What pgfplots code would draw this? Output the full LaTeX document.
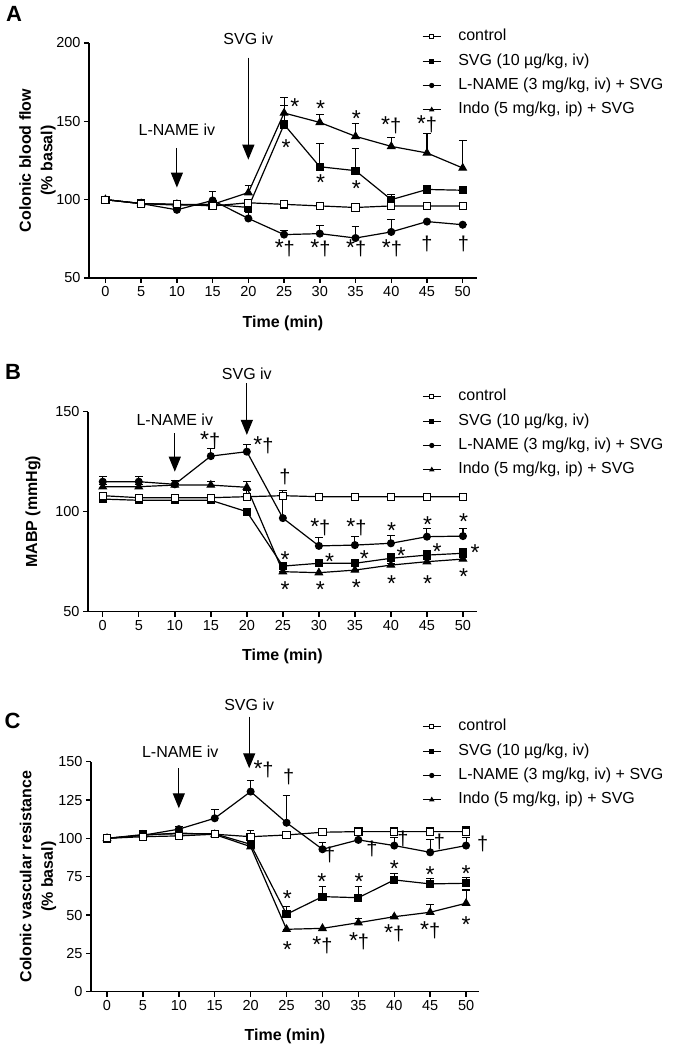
\documentclass[border=0pt]{standalone}
\usepackage{pgfplots}
\pgfplotsset{compat=1.18}
\usepackage{fontspec}
\setmainfont{Liberation Sans}
\usetikzlibrary{arrows.meta}

\newcommand{\tickfont}{\fontsize{14.5}{16}\selectfont}
\newcommand{\labfont}{\fontsize{16}{21.5}\selectfont\bfseries}
\newcommand{\annfont}{\fontsize{16}{19}\selectfont}
\newcommand{\sa}{{\fontsize{23}{24}\selectfont *}}
\newcommand{\dg}{{\fontsize{20}{22}\selectfont †}}

\tikzset{
  st/.style={inner sep=0pt, yshift=-5pt},
  sd/.style={inner sep=0pt},
  arr/.style={line width=1.2pt, -{Triangle[width=12pt,length=15pt]}},
}

\pgfplotsset{
  panel/.style={
    scale only axis,
    axis lines*=left,
    axis line style={line width=1.4pt,-},
    tick align=outside,
    major tick length=5pt,
    every tick/.style={black,line width=1.4pt},
    xtick={0,5,...,50},
    tick label style={font=\tickfont},
    /pgf/number format/assume math mode=true,
    xlabel={Time (min)},
    clip=false,
    legend cell align=left,
    legend style={draw=none, fill=none, font=\annfont, inner sep=0pt, row sep=8.3pt, column sep=17pt,
       nodes={inner sep=0pt, text height=12pt, text depth=4pt}, anchor=north west},
    legend image code/.code={
      \draw[mark repeat=2,mark phase=2,##1, mark size=2pt] plot coordinates {(0pt,0pt) (9pt,0pt) (18pt,0pt)};},
  },
  ctrl/.style={black, line width=1.2pt, mark=square*, mark size=3.6pt, mark options={fill=white, line width=1.1pt, solid}},
  svgs/.style={black, line width=1.2pt, mark=square*, mark size=3.5pt, mark options={fill=black}},
  lnm/.style={black, line width=1.2pt, mark=*, mark size=3.4pt, mark options={fill=black}},
  ind/.style={black, line width=1.2pt, mark=triangle*, mark size=4.1pt, mark options={fill=black}},
  eb/.style={error bars/.cd, y dir=plus, y explicit, error mark=|, error bar style={line width=1.1pt, black}, error mark options={black, line width=1.1pt, mark size=3.8pt}},
}

\begin{document}
\begin{tikzpicture}
\useasboundingbox (0,0) rectangle (676pt,1048pt);

\node[font=\fontsize{22}{24}\selectfont\bfseries] at (14pt,1034pt) {A};
\node[font=\fontsize{22}{24}\selectfont\bfseries] at (13pt,676pt) {B};
\node[font=\fontsize{22}{24}\selectfont\bfseries] at (12.5pt,327pt) {C};

% ---------------- Panel A ----------------
\begin{axis}[panel, at={(89pt,770pt)}, anchor=south west,
  width=388pt, height=235pt,
  xmin=-2.3, xmax=52, ymin=50, ymax=200, ytick={50,100,150,200},
  ylabel={Colonic blood flow\\(\% basal)},
  ylabel style={at={(axis description cs:-0.1327,0.5)}, anchor=center, align=center, font=\labfont},
  xlabel style={at={(axis description cs:0.5,-0.1915)}, anchor=center, font=\labfont},
  legend style={at={(axis description cs:0.858,1.0609)}},
]
\addlegendimage{ctrl}\addlegendentry{control}
\addlegendimage{svgs}\addlegendentry{SVG (10 µg/kg, iv)}
\addlegendimage{lnm}\addlegendentry{L-NAME (3 mg/kg, iv) + SVG}
\addlegendimage{ind}\addlegendentry{Indo (5 mg/kg, ip) + SVG}

\addplot[svgs, forget plot, eb] table[x=t,y=v,y error=e] {
t v e
0 100 0
5 97.5 0
10 96.5 1
15 97 0
20 95 0
25 148 12
30 121 15
35 118.5 14
40 100 3.5
45 106.5 0.5
50 106 0
};
\addplot[lnm, forget plot, eb] table[x=t,y=v,y error=e] {
t v e
0 100 0
5 97.5 0
10 93.5 1
15 99.5 5.5
20 88 4
25 77.7 2.7
30 78.3 5.3
35 75.5 7.5
40 79.4 7.8
45 86 0
50 84 0
};
\addplot[ind, forget plot, eb] table[x=t,y=v,y error=e] {
t v e
0 100 0
5 97.5 0
10 97 0
15 97 0
20 104.5 4.5
25 155.3 10
30 149.3 5
35 140.4 8
40 134 5.4
45 129.8 12.7
50 120.2 17.7
};
\addplot[ctrl, forget plot] table[x=t,y=v] {
t v
0 100
5 97.5
10 97
15 96
20 98
25 97
30 96
35 95
40 96
45 96
50 96
};

\node[font=\annfont] at (axis cs:10,144.7) {L-NAME iv};
\draw[arr] (axis cs:10,133) -- (axis cs:10,107.7);
\node[font=\annfont] at (axis cs:20,202.7) {SVG iv};
\draw[arr] (axis cs:20,190.6) -- (axis cs:20,125.5);

\node[st] at (axis cs:26.5,162.7) {\sa};
\node[st] at (axis cs:25.3,136.2) {\sa};
\node[st] at (axis cs:30.1,161.3) {\sa};
\node[st] at (axis cs:30.1,113.8) {\sa};
\node[st] at (axis cs:35.1,154.9) {\sa};
\node[st] at (axis cs:35.1,110) {\sa};
\node[sd] at (axis cs:40,147.2) {\sa\dg};
\node[sd] at (axis cs:45,148.3) {\sa\dg};
\node[sd] at (axis cs:25.1,69.2) {\sa\dg};
\node[sd] at (axis cs:30.1,69.2) {\sa\dg};
\node[sd] at (axis cs:35.1,69.2) {\sa\dg};
\node[sd] at (axis cs:40.1,69.2) {\sa\dg};
\node[sd] at (axis cs:45,71.9) {\dg};
\node[sd] at (axis cs:50.1,71.9) {\dg};
\end{axis}

% ---------------- Panel B ----------------
\begin{axis}[panel, at={(88pt,436.3pt)}, anchor=south west,
  width=389pt, height=200pt,
  xmin=-2.05, xmax=51.95, ymin=50, ymax=150, ytick={50,100,150},
  ylabel={MABP (mmHg)},
  ylabel style={at={(axis description cs:-0.1414,0.5)}, anchor=center, align=center, font=\labfont},
  xlabel style={at={(axis description cs:0.5,-0.225)}, anchor=center, font=\labfont},
  legend style={at={(axis description cs:0.8586,1.115)}},
]
\addlegendimage{ctrl}\addlegendentry{control}
\addlegendimage{svgs}\addlegendentry{SVG (10 µg/kg, iv)}
\addlegendimage{lnm}\addlegendentry{L-NAME (3 mg/kg, iv) + SVG}
\addlegendimage{ind}\addlegendentry{Indo (5 mg/kg, ip) + SVG}

\addplot[svgs, forget plot, eb] table[x=t,y=v,y error=e] {
t v e
0 106.3 0
5 105.7 0
10 105.7 0
15 105.7 0
20 100 0
25 72.8 0
30 74.2 0
35 74.2 2
40 76.7 2.5
45 78.3 2.2
50 79.2 2.5
};
\addplot[lnm, forget plot, eb] table[x=t,y=v,y error=e] {
t v e
0 115 2.8
5 115 2.8
10 113.7 2
15 127.8 3.9
20 130 3.8
25 96.8 14
30 82.9 4.3
35 83.3 4.2
40 84.2 4.1
45 87.5 4.2
50 87.8 3.9
};
\addplot[ind, forget plot, eb] table[x=t,y=v,y error=e] {
t v e
0 112.5 1
5 112.5 1
10 113.3 1
15 113.3 1.7
20 112.2 2.8
25 70 0
30 69.5 0
35 70.8 0
40 73.3 1
45 75 1
50 76.3 1
};
\addplot[ctrl, forget plot, eb] table[x=t,y=v,y error=e] {
t v e
0 108 1.5
5 107 1
10 107 1
15 107 1
20 107.5 3
25 108 1
30 107.5 0
35 107.5 0.8
40 107.5 0.8
45 107.5 0.8
50 107.5 0.8
};

\node[font=\annfont] at (axis cs:10,145.9) {L-NAME iv};
\draw[arr] (axis cs:10,139.2) -- (axis cs:10,120);
\node[font=\annfont] at (axis cs:20,169.2) {SVG iv};
\draw[arr] (axis cs:20,164.2) -- (axis cs:20,138.4);

\node[sd] at (axis cs:14.9,135.9) {\sa\dg};
\node[sd] at (axis cs:22.3,133.4) {\sa\dg};
\node[sd] at (axis cs:25.3,117.5) {\dg};
\node[sd] at (axis cs:30.2,92.2) {\sa\dg};
\node[sd] at (axis cs:35.2,92.2) {\sa\dg};
\node[st] at (axis cs:40.1,92.9) {\sa};
\node[st] at (axis cs:45.1,96.2) {\sa};
\node[st] at (axis cs:50.1,97.5) {\sa};
\node[st] at (axis cs:25.3,78.4) {\sa};
\node[st] at (axis cs:31.5,77.5) {\sa};
\node[st] at (axis cs:36.3,79.2) {\sa};
\node[st] at (axis cs:41.4,80.5) {\sa};
\node[st] at (axis cs:46.4,82.5) {\sa};
\node[st] at (axis cs:51.7,82.2) {\sa};
\node[st] at (axis cs:25.3,63.4) {\sa};
\node[st] at (axis cs:30.2,63.4) {\sa};
\node[st] at (axis cs:35.2,64.7) {\sa};
\node[st] at (axis cs:40.1,66.4) {\sa};
\node[st] at (axis cs:45.1,66.4) {\sa};
\node[st] at (axis cs:50.1,70) {\sa};
\end{axis}

% ---------------- Panel C ----------------
\begin{axis}[panel, at={(91pt,56.3pt)}, anchor=south west,
  width=388pt, height=230pt,
  xmin=-2.23, xmax=51.8, ymin=0, ymax=150, ytick={0,25,...,150},
  ylabel={Colonic vascular resistance\\(\% basal)},
  ylabel style={at={(axis description cs:-0.1366,0.5)}, anchor=center, align=center, font=\labfont},
  xlabel style={at={(axis description cs:0.5,-0.1957)}, anchor=center, font=\labfont},
  legend style={at={(axis description cs:0.853,1.187)}},
]
\addlegendimage{ctrl}\addlegendentry{control}
\addlegendimage{svgs}\addlegendentry{SVG (10 µg/kg, iv)}
\addlegendimage{lnm}\addlegendentry{L-NAME (3 mg/kg, iv) + SVG}
\addlegendimage{ind}\addlegendentry{Indo (5 mg/kg, ip) + SVG}

\addplot[svgs, forget plot, eb] table[x=t,y=v,y error=e] {
t v e
0 100 0
5 102.5 0
10 103 0
15 103 0
20 96.1 0
25 50.5 4.9
30 62 6.5
35 61.3 7.6
40 72.9 4.3
45 70.3 3.7
50 70.7 3.9
};
\addplot[lnm, forget plot, eb] table[x=t,y=v,y error=e] {
t v e
0 100 0
5 102 0
10 106 2
15 113.1 5.9
20 130.5 7.5
25 110.2 17.5
30 92.9 4.6
35 99 0
40 95.3 5
45 90.9 8.5
50 95.3 5
};
\addplot[ind, forget plot, eb] table[x=t,y=v,y error=e] {
t v e
0 100 0
5 102 0
10 103.5 0
15 102.5 0
20 94.6 0
25 40.7 0
30 41.3 0
35 45 2.6
40 48.9 0
45 51.8 4.8
50 57.7 8.6
};
\addplot[ctrl, forget plot, eb] table[x=t,y=v,y error=e] {
t v e
0 100 0
5 101.1 0
10 101.6 0
15 102.7 0
20 101.1 4
25 102.2 0
30 104 0
35 104.4 0
40 104.4 0
45 104.4 0
50 104.4 3.2
};

\node[font=\annfont] at (axis cs:10.2,156.6) {L-NAME iv};
\draw[arr] (axis cs:10,145.7) -- (axis cs:10,119.6);
\node[font=\annfont] at (axis cs:19.8,187) {SVG iv};
\draw[arr] (axis cs:19.8,179.4) -- (axis cs:19.8,145.7);

\node[sd] at (axis cs:21.8,145.1) {\sa\dg};
\node[sd] at (axis cs:25.3,140.3) {\dg};
\node[sd] at (axis cs:31,89.2) {\dg};
\node[sd] at (axis cs:36.9,92.9) {\dg};
\node[sd] at (axis cs:41.2,99.4) {\dg};
\node[sd] at (axis cs:46.3,97.8) {\dg};
\node[sd] at (axis cs:52.3,96.3) {\dg};
\node[st] at (axis cs:25.1,64.2) {\sa};
\node[st] at (axis cs:29.9,75) {\sa};
\node[st] at (axis cs:35.1,75) {\sa};
\node[st] at (axis cs:40,83.8) {\sa};
\node[st] at (axis cs:45,79.8) {\sa};
\node[st] at (axis cs:50,80.5) {\sa};
\node[st] at (axis cs:25.1,30.5) {\sa};
\node[sd] at (axis cs:30,30.5) {\sa\dg};
\node[sd] at (axis cs:35.1,32.6) {\sa\dg};
\node[sd] at (axis cs:40,38) {\sa\dg};
\node[sd] at (axis cs:45,40.2) {\sa\dg};
\node[st] at (axis cs:50,46.8) {\sa};
\end{axis}
\end{tikzpicture}
\end{document}
